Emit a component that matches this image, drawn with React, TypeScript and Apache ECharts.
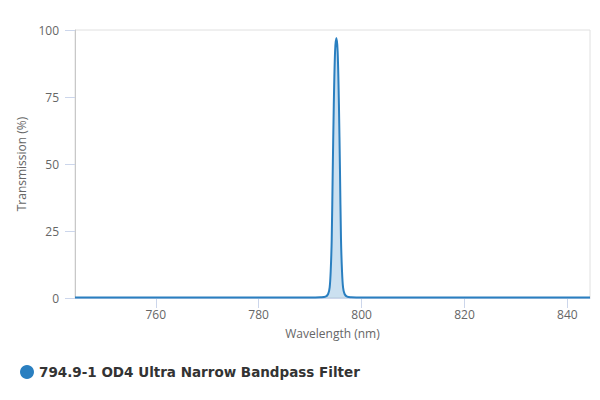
import React, { useEffect, useRef } from "react";
import * as echarts from "echarts";

const seriesName = "794.9-1 OD4 Ultra Narrow Bandpass Filter";
const wavelengths = [744.3, 760, 780, 790, 792, 793, 793.5, 793.8, 794.0, 794.2, 794.4, 794.6, 794.85, 795.1, 795.35, 795.6, 795.8, 796.0, 796.2, 796.4, 796.7, 797.2, 798, 800, 820, 844.4];
const transmission = [0.2, 0.2, 0.2, 0.2, 0.3, 0.5, 1.5, 4, 10, 22, 48, 72, 92, 97, 92, 72, 48, 22, 10, 4, 1.5, 0.5, 0.3, 0.2, 0.2, 0.2];
const xTicks = [760, 780, 800, 820, 840];
const yTicks = [0, 25, 50, 75, 100];

export default function App() {
  const ref = useRef<HTMLDivElement>(null);
  useEffect(() => {
    if (!ref.current) return;
    const chart = echarts.init(ref.current, null, { renderer: "svg" });
    const font = "'Open Sans', 'Liberation Sans', sans-serif";
    chart.setOption({
      animation: false,
      backgroundColor: "#fff",
      grid: {
        left: 75,
        right: 10,
        top: 30,
        bottom: 102,
        show: true,
        borderColor: "#e0e0e0",
        borderWidth: 1,
        backgroundColor: "transparent",
      },
      legend: {
        show: true,
        left: 15,
        top: 360,
        icon: "circle",
        itemWidth: 14,
        itemHeight: 14,
        itemGap: 6,
        textStyle: { fontFamily: "'DejaVu Sans', sans-serif", fontWeight: "bold", fontSize: 13.5, color: "#333" },
        data: [seriesName],
      },
      xAxis: {
        type: "value",
        min: 744.3,
        max: 844.4,
        name: "Wavelength (nm)",
        nameLocation: "middle",
        nameGap: 29,
        nameTextStyle: { fontFamily: font, fontSize: 12, color: "#666" },
        axisLine: { show: true, lineStyle: { color: "#ccd6eb" } },
        axisTick: { show: true, length: 10, lineStyle: { color: "#ccd6eb" }, customValues: xTicks },
        axisLabel: { fontFamily: font, fontSize: 12, color: "#666", margin: 10, customValues: xTicks },
        splitLine: { show: false },
      },
      yAxis: {
        type: "value",
        min: 0,
        max: 100,
        interval: 25,
        name: "Transmission (%)",
        nameLocation: "middle",
        nameGap: 47,
        nameTextStyle: { fontFamily: font, fontSize: 12, color: "#666" },
        axisLine: { show: true, lineStyle: { color: "#c8c8c8" } },
        axisTick: { show: true, length: 10, lineStyle: { color: "#ccd6eb" }, customValues: yTicks },
        axisLabel: { fontFamily: font, fontSize: 12, color: "#666", margin: 16, customValues: yTicks },
        splitLine: { show: false },
      },
      series: [
        {
          name: seriesName,
          type: "line",
          data: wavelengths.map((w, i) => [w, transmission[i]]),
          smooth: 0.3,
          showSymbol: false,
          symbol: "circle",
          color: "#2a7fc0",
          lineStyle: { width: 2, color: "#2a7fc0" },
          areaStyle: { color: "rgba(42,127,192,0.35)" },
        },
      ],
    });
    return () => chart.dispose();
  }, []);
  return <div ref={ref} style={{ width: 600, height: 400, margin: -8 }} />;
}
